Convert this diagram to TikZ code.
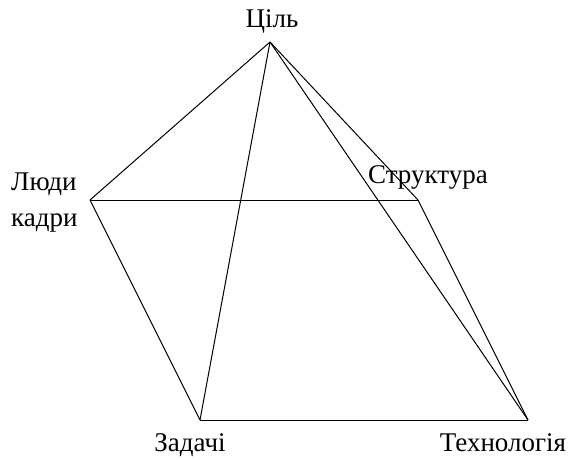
\documentclass[tikz,border=0pt]{standalone}
\usepackage{fontspec}
\setmainfont{Liberation Serif}
\begin{document}
\begin{tikzpicture}[x=1pt,y=-1pt,
  edge/.style={line width=1pt},
  lbl/.style={font=\fontsize{27}{32}\selectfont, inner sep=0pt}]
\useasboundingbox (0,0) rectangle (568,459);
\coordinate (A) at (270,42);
\coordinate (L) at (90,200);
\coordinate (S) at (418,200);
\coordinate (Z) at (200,420);
\coordinate (T) at (528,420);
\node[lbl, anchor=base] (tA) at (272,27) {Ціль};
\node[lbl, anchor=base west] (tL1) at (11,190) {Люди};
\node[lbl, anchor=base west] (tL2) at (11,226) {кадри};
\node[lbl, anchor=base] (tS) at (428,183) {Структура};
\node[lbl, anchor=base] (tZ) at (190,451) {Задачі};
\node[lbl, anchor=base] (tT) at (503,451) {Технологія};
\draw[edge] (A) -- (L);
\draw[edge] (A) -- (S);
\draw[edge] (A) -- (Z);
\draw[edge] (A) -- (T);
\draw[edge] (L) -- (S);
\draw[edge] (L) -- (Z);
\draw[edge] (Z) -- (T);
\draw[edge] (S) -- (T);
\end{tikzpicture}
\end{document}
